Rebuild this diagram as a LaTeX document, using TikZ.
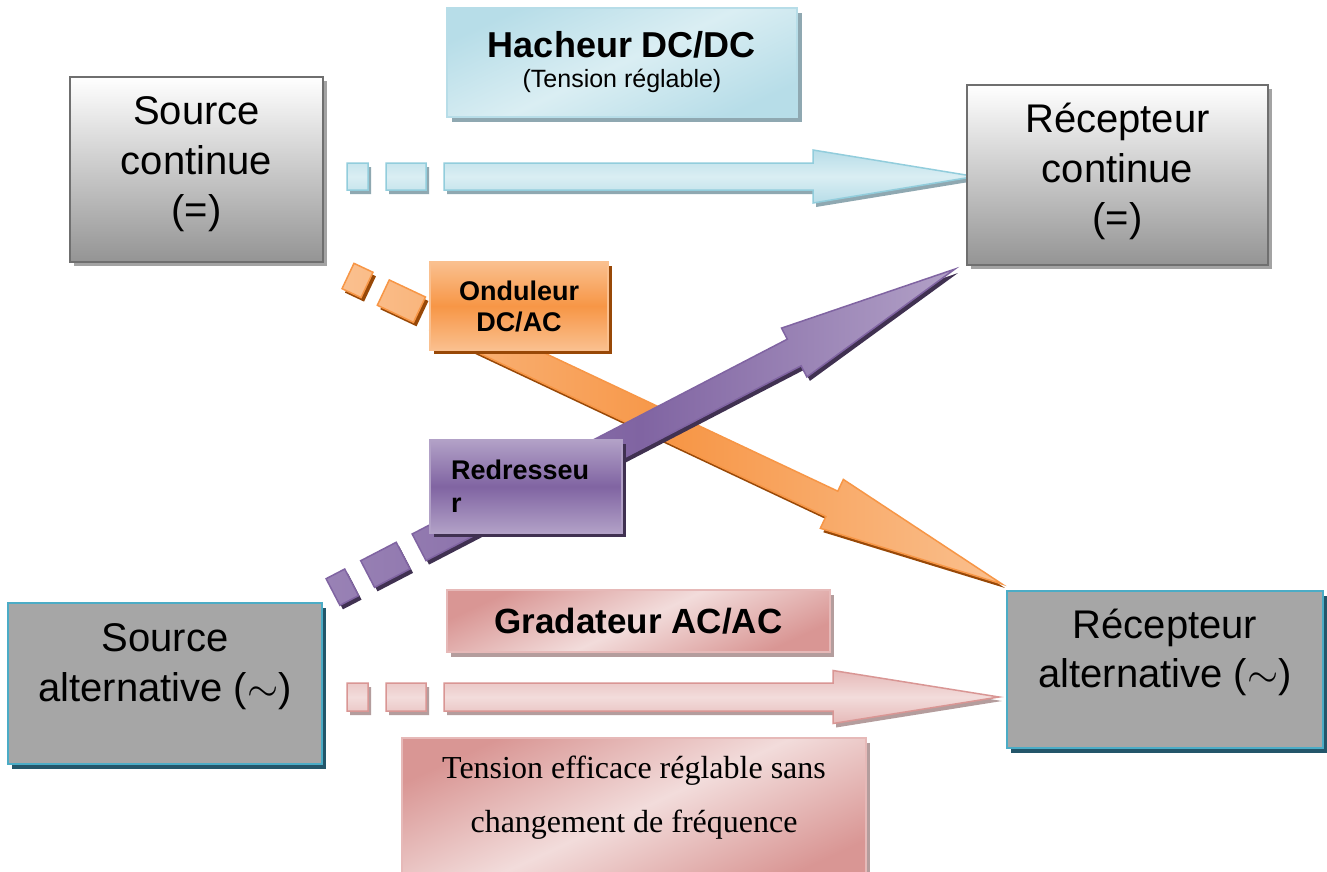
\RequirePackage{fix-cm}
\documentclass[tikz,border=0pt]{standalone}
\usepackage{fontspec}
\setmainfont{Liberation Sans}
\newfontfamily\timesfont{Liberation Serif}
\usetikzlibrary{calc, shadows}

\definecolor{cyanlight}{HTML}{DAEEF3}
\definecolor{cyanmid}{HTML}{B7DDE8}
\definecolor{cyanedge}{HTML}{92CDDC}
\definecolor{cyanline}{HTML}{4BACC6}
\definecolor{tealshadow}{HTML}{23566A}
\definecolor{blueshadow}{HTML}{8FA8B1}
\definecolor{orangedark}{HTML}{F79646}
\definecolor{orangelight}{HTML}{FAC08F}
\definecolor{orangeshadow}{HTML}{984807}
\definecolor{purpledark}{HTML}{8064A2}
\definecolor{purplemid}{HTML}{9982B5}
\definecolor{purplelight}{HTML}{B2A1C7}
\definecolor{purpleshadow}{HTML}{403151}
\definecolor{pinkdark}{HTML}{D99694}
\definecolor{pinkmid}{HTML}{E6B9B8}
\definecolor{pinklight}{HTML}{F2DCDB}
\definecolor{pinkshadow}{HTML}{B49D9D}
\definecolor{boxgray}{HTML}{A6A6A6}
\definecolor{boxline}{HTML}{6F6F6F}
\definecolor{boxshadow}{HTML}{A3A3A3}
\definecolor{graybottom}{HTML}{949494}

% outline of a block arrow cut into two squares (uses \flen)
\newcommand{\flechetrace}[3]{(0,-#1) rectangle (21,#1) (39,-#1) rectangle (79,#1)
  (97,-#1) -- ({\flen-#3},-#1) -- ({\flen-#3},-#2) -- (\flen,0) -- ({\flen-#3},#2) -- ({\flen-#3},#1) -- (97,#1) -- cycle}

% #1 start, #2 tip, #3 body half width, #4 head half width, #5 head length, #6 style, #7 shadow
\newcommand{\flechebloc}[7]{%
  \pgfmathanglebetweenpoints{\pgfpointanchor{#1}{center}}{\pgfpointanchor{#2}{center}}%
  \let\fang\pgfmathresult
  \pgfpointdiff{\pgfpointanchor{#1}{center}}{\pgfpointanchor{#2}{center}}%
  \pgfgetlastxy{\fdx}{\fdy}%
  \pgfmathsetmacro{\flen}{veclen(\fdx,\fdy)}%
  \begin{scope}[shift={($(#1)+(3,4)$)}, rotate=\fang]
    \fill[#7] \flechetrace{#3}{#4}{#5};
  \end{scope}
  \begin{scope}[shift={(#1)}, rotate=\fang]
    \path[#6] \flechetrace{#3}{#4}{#5};
  \end{scope}}

\begin{document}
\begin{tikzpicture}[x=1pt, y=-1pt,
every node/.style={align=center, line width=2pt, inner sep=0pt},
dcbox/.style={draw=boxline, top color=white, bottom color=graybottom, font=\fontsize{40}{49.5}\selectfont, drop shadow={shadow xshift=4pt, shadow yshift=-4pt, fill=boxshadow, opacity=1}},
acbox/.style={draw=cyanline, fill=boxgray, font=\fontsize{40}{49.5}\selectfont, drop shadow={shadow xshift=4pt, shadow yshift=-5pt, fill=tealshadow, opacity=1}},
hachbox/.style={draw=cyanmid, top color=cyanmid, bottom color=cyanmid, middle color=cyanlight, shading angle=25, font=\fontsize{25}{30}\selectfont, drop shadow={shadow xshift=5pt, shadow yshift=-5pt, fill=blueshadow, opacity=1}},
ondbox/.style={draw=orangelight, top color=orangelight, bottom color=orangelight, middle color=orangedark, font=\bfseries\fontsize{27}{31}\selectfont, drop shadow={shadow xshift=4pt, shadow yshift=-4pt, fill=orangeshadow, opacity=1}},
redbox/.style={draw=purplelight, top color=purplelight, bottom color=purplelight, middle color=purpledark, align=left, text width=150, font=\bfseries\fontsize{27}{33}\selectfont, drop shadow={shadow xshift=4pt, shadow yshift=-4pt, fill=purpleshadow, opacity=1}},
gradbox/.style={draw=pinkmid, top color=pinkdark, bottom color=pinkdark, middle color=pinklight, shading angle=25, drop shadow={shadow xshift=4pt, shadow yshift=-5pt, fill=pinkshadow, opacity=1}},
bluearrow/.style={draw=cyanedge, line width=1.5pt, top color=cyanmid, bottom color=cyanmid, middle color=cyanlight},
pinkarrow/.style={draw=pinkdark, line width=1.5pt, top color=pinkmid, bottom color=pinkmid, middle color=pinklight},
orangearrow/.style={draw=orangedark, line width=1.5pt, left color=orangelight, right color=orangelight, middle color=orangedark},
purplearrow/.style={draw=purpledark, line width=1.5pt, left color=purplemid, right color=purplelight, middle color=purpledark}]
    \path[use as bounding box, fill=white] (0,0) rectangle (1327,872);

    % ends of the block arrows
    \coordinate (orangestart) at (348,276);
    \coordinate (orangetip) at (1002,584);
    \coordinate (purplestart) at (333,592);
    \coordinate (purpletip) at (955,269);
    \coordinate (bluestart) at (347,176.5);
    \coordinate (bluetip) at (975,176.5);
    \coordinate (pinkstart) at (347,697);
    \coordinate (pinktip) at (999,697);

    \flechebloc{orangestart}{orangetip}{14}{27}{188}{orangearrow}{orangeshadow}
    \flechebloc{purplestart}{purpletip}{15}{27.5}{181}{purplearrow}{purpleshadow}
    \flechebloc{bluestart}{bluetip}{13.5}{26.5}{162}{bluearrow}{blueshadow}
    \flechebloc{pinkstart}{pinktip}{14}{26.5}{166}{pinkarrow}{pinkshadow}

    % sources and receivers
    \node[dcbox, minimum width=253, minimum height=185, text depth=18pt] (srcdc) at (196.5,169.5) {Source\\continue\\(=)};
    \node[dcbox, minimum width=301, minimum height=180, text depth=15pt] (rcvdc) at (1117.5,175) {Récepteur\\continue\\(=)};
    \node[acbox, minimum width=314, minimum height=161, text depth=42pt] (srcac) at (165,683.5) {Source\\alternative ($\sim$)};
    \node[acbox, minimum width=316, minimum height=157, text depth=42pt] (rcvac) at (1165,669.5) {Récepteur\\alternative ($\sim$)};

    % converters
    \node[hachbox, minimum width=350, minimum height=109] (hacheur) at (622,62.5) {{\bfseries\fontsize{36}{36}\selectfont Hacheur DC/DC}\\(Tension réglable)};
    \node[ondbox, minimum width=178, minimum height=88] (onduleur) at (519,306) {Onduleur\\DC/AC};
    \node[redbox, minimum width=192, minimum height=93] (redresseur) at (526,486.5) {Redresseu\\r};
    \node[gradbox, minimum width=383, minimum height=62, font=\bfseries\fontsize{35}{40}\selectfont] (gradateur) at (638.5,621) {Gradateur AC/AC};
    \node[gradbox, minimum width=464, minimum height=147, text depth=35pt, font=\timesfont\fontsize{32}{54}\selectfont] (tension) at (634,811.5) {Tension efficace réglable sans\\changement de fréquence};
\end{tikzpicture}
\end{document}
